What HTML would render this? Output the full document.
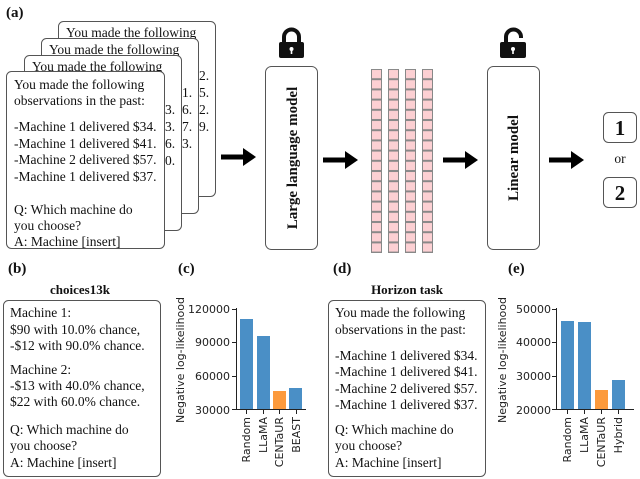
<!DOCTYPE html>
<html><head><meta charset="utf-8"><style>
html,body{margin:0;padding:0;background:#fff;}
svg{display:block;}
.s{font-family:"Liberation Serif",serif;font-size:13.5px;fill:#111;}
.b{font-family:"Liberation Serif",serif;font-weight:bold;fill:#111;}
.m{font-family:"DejaVu Sans",sans-serif;font-size:11px;fill:#222;}
</style></head><body>
<svg width="640" height="479" viewBox="0 0 640 479" xmlns="http://www.w3.org/2000/svg">
<defs>
<pattern id="cells" x="371" y="69" width="17" height="10.2" patternUnits="userSpaceOnUse">
<rect x="0.5" y="0.5" width="10" height="9.2" fill="#fcd0d3" stroke="#888" stroke-width="1"/>
</pattern>
<g id="arr"><rect x="0" y="-2.5" width="24" height="5" fill="#000"/><polygon points="22,-9 35,0 22,9" fill="#000"/></g>
</defs>
<text class="b" x="6" y="17" font-size="15">(a)</text>
<rect x="58.5" y="21.5" width="157" height="175" rx="5" fill="#fff" stroke="#555"/>
<text class="s" x="66" y="37">You made the following</text>
<text class="s" x="199" y="80">2.</text><text class="s" x="199" y="97">5.</text><text class="s" x="199" y="114">2.</text><text class="s" x="199" y="131">9.</text>
<rect x="41.5" y="38.5" width="157" height="175" rx="5" fill="#fff" stroke="#555"/>
<text class="s" x="49" y="54">You made the following</text>
<text class="s" x="182" y="97">1.</text><text class="s" x="182" y="114">6.</text><text class="s" x="182" y="131">7.</text><text class="s" x="182" y="148">3.</text>
<rect x="24.5" y="55.5" width="157" height="175" rx="5" fill="#fff" stroke="#555"/>
<text class="s" x="32" y="71">You made the following</text>
<text class="s" x="165" y="114">3.</text><text class="s" x="165" y="131">3.</text><text class="s" x="165" y="148">6.</text><text class="s" x="165" y="165">0.</text>
<rect x="6.5" y="71.5" width="158" height="177" rx="5" fill="#fff" stroke="#555"/>
<g class="s">
<text x="14" y="89">You made the following</text>
<text x="14" y="105">observations in the past:</text>
<text x="14" y="131">-Machine 1 delivered $34.</text>
<text x="14" y="148">-Machine 1 delivered $41.</text>
<text x="14" y="164">-Machine 2 delivered $57.</text>
<text x="14" y="181">-Machine 1 delivered $37.</text>
<text x="14" y="214">Q: Which machine do</text>
<text x="14" y="230">you choose?</text>
<text x="14" y="246">A: Machine [insert]</text>
</g>
<use href="#arr" x="221" y="157"/>
<path d="M284,43 v-6 a7.5,7.5 0 0 1 15,0 v6" fill="none" stroke="#111" stroke-width="4"/>
<rect x="279" y="42" width="25" height="16" rx="2" fill="#111"/>
<circle cx="291.5" cy="49" r="2" fill="#fff"/><rect x="290.7" y="49" width="1.6" height="5" fill="#fff"/>
<rect x="265.5" y="66.5" width="52" height="183" rx="6" fill="#fff" stroke="#555"/>
<text class="b" font-size="15" transform="translate(297,158) rotate(-90)" text-anchor="middle">Large language model</text>
<use href="#arr" x="323" y="160"/>
<rect x="371" y="69" width="62" height="184" fill="url(#cells)"/>
<use href="#arr" x="443" y="160"/>
<path d="M506,42 v-5 a7.5,7.5 0 0 1 15,0 v1" fill="none" stroke="#111" stroke-width="4"/>
<rect x="500" y="42" width="26" height="16" rx="2" fill="#111"/>
<circle cx="513" cy="49" r="2" fill="#fff"/><rect x="512.2" y="49" width="1.6" height="5" fill="#fff"/>
<rect x="487.5" y="66.5" width="52" height="183" rx="6" fill="#fff" stroke="#555"/>
<text class="b" font-size="15" transform="translate(518,158) rotate(-90)" text-anchor="middle">Linear model</text>
<use href="#arr" x="549" y="160"/>
<rect x="603.5" y="112.5" width="33" height="30" rx="5" fill="#fff" stroke="#555"/>
<text class="b" font-size="21" x="620" y="135" text-anchor="middle">1</text>
<text class="s" font-size="11" x="620" y="163" text-anchor="middle">or</text>
<rect x="603.5" y="177.5" width="33" height="30" rx="5" fill="#fff" stroke="#555"/>
<text class="b" font-size="21" x="620" y="200" text-anchor="middle">2</text>

<text class="b" x="8" y="273" font-size="15">(b)</text>
<text class="b" x="80" y="294" font-size="13" text-anchor="middle">choices13k</text>
<rect x="3.5" y="300.5" width="157" height="176" rx="5" fill="#fff" stroke="#555"/>
<g class="s">
<text x="10" y="317">Machine 1:</text>
<text x="10" y="334">$90 with 10.0% chance,</text>
<text x="10" y="350">-$12 with 90.0% chance.</text>
<text x="10" y="374">Machine 2:</text>
<text x="10" y="390">-$13 with 40.0% chance,</text>
<text x="10" y="406">$22 with 60.0% chance.</text>
<text x="10" y="434">Q: Which machine do</text>
<text x="10" y="450">you choose?</text>
<text x="10" y="467">A: Machine [insert]</text>
</g>
<text class="b" x="178" y="273" font-size="15">(c)</text>
<text class="m" transform="translate(184,360) rotate(-90)" text-anchor="middle">Negative log-likelihood</text>
<g class="m" text-anchor="end">
<text x="230" y="313">120000</text><text x="230" y="346">90000</text><text x="230" y="380">60000</text><text x="230" y="414">30000</text>
</g>
<line x1="236.5" y1="308" x2="236.5" y2="410" stroke="#222"/>
<line x1="236" y1="409.5" x2="306" y2="409.5" stroke="#222"/>
<g stroke="#222"><line x1="232" y1="309.5" x2="236" y2="309.5"/><line x1="232" y1="342.5" x2="236" y2="342.5"/><line x1="232" y1="376.5" x2="236" y2="376.5"/><line x1="232" y1="409.5" x2="236" y2="409.5"/>
<line x1="246.5" y1="410" x2="246.5" y2="414"/><line x1="263.5" y1="410" x2="263.5" y2="414"/><line x1="279.5" y1="410" x2="279.5" y2="414"/><line x1="296.5" y1="410" x2="296.5" y2="414"/></g>
<rect x="240" y="319" width="13" height="90" fill="#4a8fc6"/>
<rect x="257" y="336" width="13" height="73" fill="#4a8fc6"/>
<rect x="273" y="391" width="13" height="18" fill="#fc9a3c"/>
<rect x="289" y="388" width="13" height="21" fill="#4a8fc6"/>
<g class="m" text-anchor="end">
<text transform="translate(250,417) rotate(-90)">Random</text>
<text transform="translate(267,417) rotate(-90)">LLaMA</text>
<text transform="translate(283,417) rotate(-90)">CENTaUR</text>
<text transform="translate(300,417) rotate(-90)">BEAST</text>
</g>
<text class="b" x="333" y="273" font-size="15">(d)</text>
<text class="b" x="407" y="294" font-size="13" text-anchor="middle">Horizon task</text>
<rect x="328.5" y="300.5" width="157" height="176" rx="5" fill="#fff" stroke="#555"/>
<g class="s">
<text x="335" y="317">You made the following</text>
<text x="335" y="334">observations in the past:</text>
<text x="335" y="360">-Machine 1 delivered $34.</text>
<text x="335" y="376">-Machine 1 delivered $41.</text>
<text x="335" y="393">-Machine 2 delivered $57.</text>
<text x="335" y="409">-Machine 1 delivered $37.</text>
<text x="335" y="434">Q: Which machine do</text>
<text x="335" y="450">you choose?</text>
<text x="335" y="467">A: Machine [insert]</text>
</g>
<text class="b" x="508" y="273" font-size="15">(e)</text>
<text class="m" transform="translate(506,360) rotate(-90)" text-anchor="middle">Negative log-likelihood</text>
<g class="m" text-anchor="end">
<text x="551" y="313">50000</text><text x="551" y="346">40000</text><text x="551" y="380">30000</text><text x="551" y="414">20000</text>
</g>
<line x1="556.5" y1="308" x2="556.5" y2="410" stroke="#222"/>
<line x1="556" y1="409.5" x2="634" y2="409.5" stroke="#222"/>
<g stroke="#222"><line x1="552" y1="309.5" x2="556" y2="309.5"/><line x1="552" y1="342.5" x2="556" y2="342.5"/><line x1="552" y1="376.5" x2="556" y2="376.5"/><line x1="552" y1="409.5" x2="556" y2="409.5"/>
<line x1="567.5" y1="410" x2="567.5" y2="414"/><line x1="584.5" y1="410" x2="584.5" y2="414"/><line x1="601.5" y1="410" x2="601.5" y2="414"/><line x1="618.5" y1="410" x2="618.5" y2="414"/></g>
<rect x="561" y="321" width="13" height="88" fill="#4a8fc6"/>
<rect x="578" y="322" width="13" height="87" fill="#4a8fc6"/>
<rect x="595" y="390" width="13" height="19" fill="#fc9a3c"/>
<rect x="612" y="380" width="13" height="29" fill="#4a8fc6"/>
<g class="m" text-anchor="end">
<text transform="translate(571,417) rotate(-90)">Random</text>
<text transform="translate(588,417) rotate(-90)">LLaMA</text>
<text transform="translate(605,417) rotate(-90)">CENTaUR</text>
<text transform="translate(622,417) rotate(-90)">Hybrid</text>
</g>
</svg>
</body></html>
